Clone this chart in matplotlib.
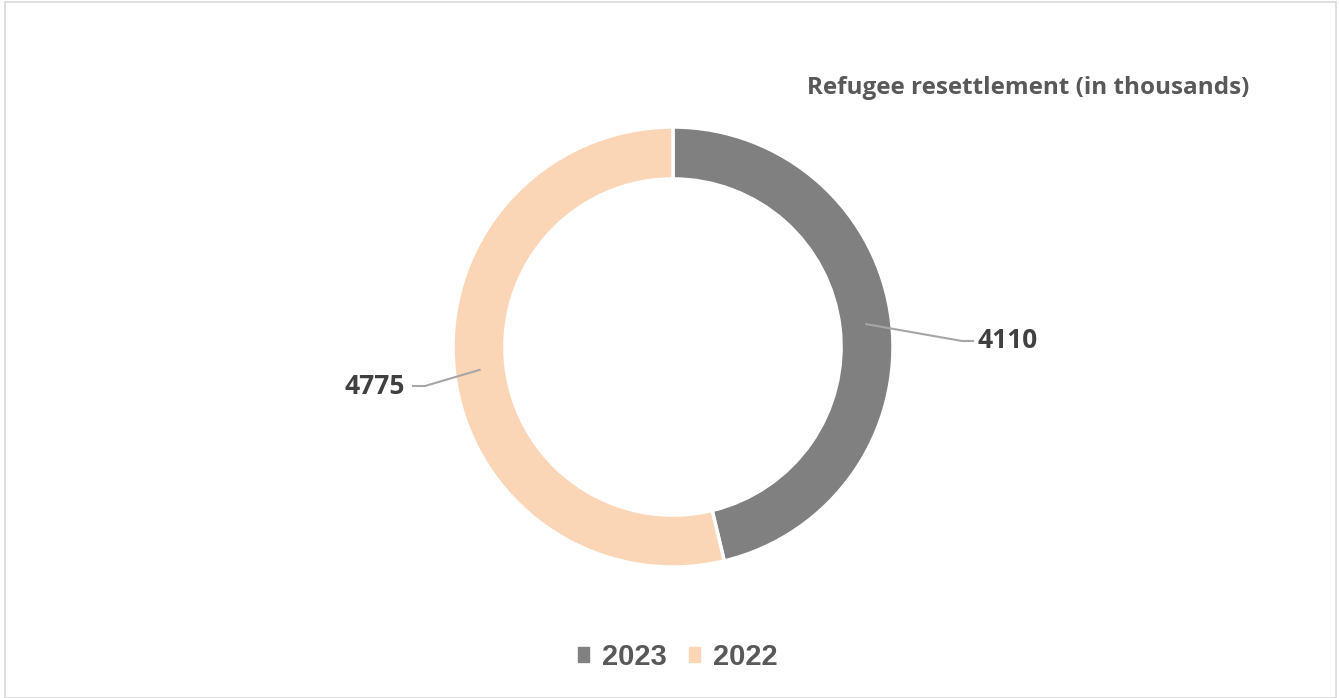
import numpy as np
import matplotlib.pyplot as plt
from matplotlib.patches import Rectangle

years = ["2023", "2022"]
resettled = [4110, 4775]
colors = ["#808080", "#FBD6B6"]
title = "Refugee resettlement (in thousands)"

W, H = 1339, 698
fig = plt.figure(figsize=(W / 100, H / 100), dpi=100)
ax = fig.add_axes([0, 0, 1, 1])

# donut, working in pixel units (y up)
cx, cy, R = 673, 351, 220
wedges, _ = ax.pie(resettled, colors=colors, startangle=90, counterclock=False,
                   radius=R, center=(cx, cy),
                   wedgeprops=dict(width=R * 0.236, edgecolor="white", linewidth=2.5))
ax.set_xlim(0, W)
ax.set_ylim(0, H)
ax.set_aspect("equal")
ax.axis("off")

# leader lines + value labels
label_pos = [(1008, 357, 962, 973), (375, 312, 425, 413)]
rmid = R * 0.885
for w, val, (tx, ty, ex, hx) in zip(wedges, resettled, label_pos):
    ang = np.deg2rad((w.theta1 + w.theta2) / 2)
    sx, sy = cx + rmid * np.cos(ang), cy + rmid * np.sin(ang)
    ax.plot([sx, ex, hx], [sy, ty, ty], color="#A6A6A6", lw=1.5)
    ax.text(tx, ty, str(val), ha="center", va="center", fontsize=19,
            fontweight="bold", color="#404040", family="Open Sans")

fig.text(1028 / W, 1 - 88 / H, title, ha="center", va="center", fontsize=17.5,
         fontweight="bold", color="#595959", family="Open Sans")

handles = [plt.Rectangle((0, 0), 1, 1, color=c) for c in colors]
leg = fig.legend(handles, years, loc="center", bbox_to_anchor=(678 / W, 1 - 657 / H),
                 ncol=2, frameon=False, handlelength=0.38, handleheight=0.38,
                 handletextpad=0.45, columnspacing=0.75,
                 prop=dict(family="Liberation Sans", weight="bold", size=21))
for t in leg.get_texts():
    t.set_color("#595959")

fig.patches.append(Rectangle((5 / W, 0), 1 - 8 / W, 1 - 2 / H, transform=fig.transFigure,
                             fill=False, edgecolor="#D9D9D9", lw=1.2))

fig.savefig("out.png", dpi=100, facecolor="white")
